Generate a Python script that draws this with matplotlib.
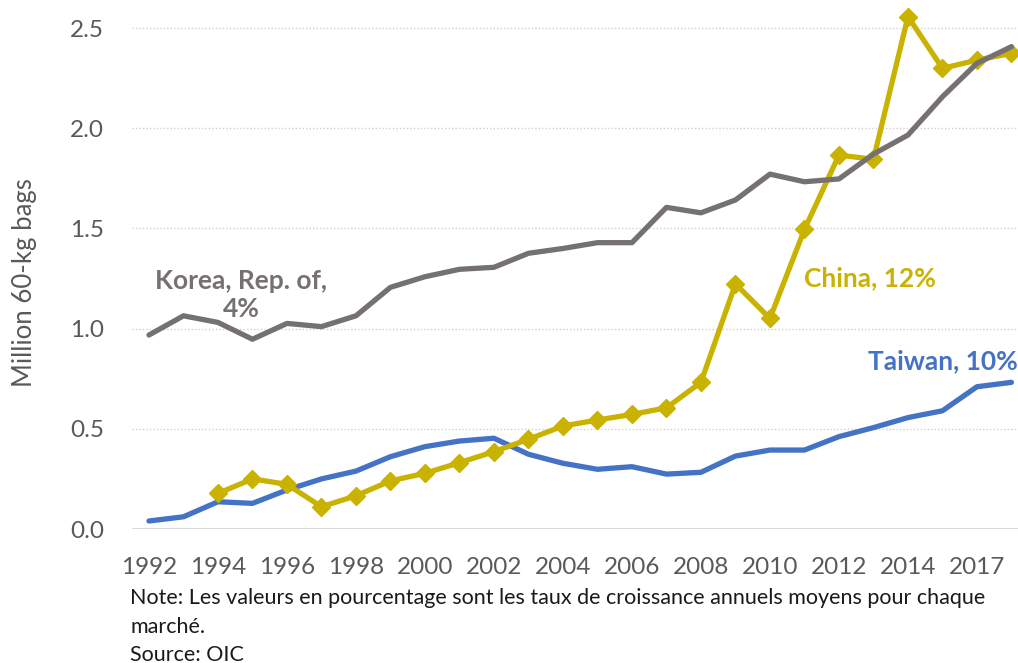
import matplotlib.pyplot as plt
import numpy as np

plt.rcParams['font.family'] = ['Lato', 'DejaVu Sans']

years = list(range(1992, 2018))
tick_labels = ['1992', '1994', '1996', '1998', '2000', '2002', '2004',
               '2006', '2008', '2010', '2012', '2014', '2017']

korea = [0.968, 1.064, 1.031, 0.947, 1.026, 1.010, 1.064, 1.206, 1.259, 1.296,
         1.306, 1.376, 1.400, 1.429, 1.429, 1.605, 1.578, 1.642, 1.771, 1.733,
         1.747, 1.871, 1.966, 2.157, 2.324, 2.407]
# China starts in 1994
china = [None, None, 0.178, 0.250, 0.223, 0.111, 0.166, 0.240, 0.278, 0.331,
         0.386, 0.448, 0.514, 0.544, 0.572, 0.605, 0.732, 1.223, 1.051, 1.495,
         1.866, 1.845, 2.557, 2.299, 2.340, 2.374]
taiwan = [0.040, 0.061, 0.136, 0.128, 0.195, 0.250, 0.289, 0.361, 0.411, 0.439,
          0.453, 0.373, 0.328, 0.298, 0.311, 0.274, 0.283, 0.364, 0.394, 0.394,
          0.461, 0.506, 0.556, 0.590, 0.710, 0.732]

c_korea = '#767171'
c_china = '#C9B300'
c_taiwan = '#4472C4'
c_text = '#595959'

x = np.arange(len(years))
china_arr = np.array([np.nan if v is None else v for v in china])

fig = plt.figure(figsize=(10.18, 6.63), dpi=100)
ax = fig.add_axes([0.1294, 0.2021, 0.8706, 0.7979])

ax.plot(x, taiwan, color=c_taiwan, lw=3.8, solid_capstyle='round', zorder=3, clip_on=False)
ax.plot(x, china_arr, color=c_china, lw=3.8, marker='D', ms=9, zorder=4, clip_on=False)
ax.plot(x, korea, color=c_korea, lw=3.8, solid_capstyle='round', zorder=5, clip_on=False)

ax.set_xlim(-0.5, 25.19)
ax.set_ylim(0, 2.64)
ax.set_yticks([0, 0.5, 1.0, 1.5, 2.0, 2.5])
ax.set_yticklabels(['0.0', '0.5', '1.0', '1.5', '2.0', '2.5'])
ax.set_xticks(x[::2])
ax.set_xticklabels(tick_labels)
ax.tick_params(axis='both', length=0, labelsize=17.5, colors=c_text)
ax.tick_params(axis='x', pad=20)
ax.tick_params(axis='y', pad=20)

for v in [0.5, 1.0, 1.5, 2.0, 2.5]:
    ax.axhline(v, color='#D0D0D0', lw=1, ls=(0, (1, 1.5)), zorder=1)
ax.axhline(0, color='#D9D9D9', lw=1.5, zorder=2)

for s in ax.spines.values():
    s.set_visible(False)

fig.text(25 / 1018, 1 - 283 / 663, 'Million 60-kg bags', rotation=90,
         fontsize=18.5, color=c_text, ha='center', va='center')

ax.text(2.67, 1.168, 'Korea, Rep. of,\n4%', color=c_korea, fontsize=19,
        fontweight='bold', ha='center', va='center', linespacing=1.2)
ax.text(20.9, 1.252, 'China, 12%', color=c_china, fontsize=19,
        fontweight='bold', ha='center', va='center')
ax.text(23.0, 0.838, 'Taiwan, 10%', color=c_taiwan, fontsize=19,
        fontweight='bold', ha='center', va='center')

fig.text(130 / 1018, 1 - 598 / 663,
         'Note: Les valeurs en pourcentage sont les taux de croissance annuels moyens pour chaque',
         fontsize=15.5, color='#1a1a1a', va='center')
fig.text(130 / 1018, 1 - 627 / 663, 'marché.', fontsize=15.5, color='#1a1a1a', va='center')
fig.text(130 / 1018, 1 - 655 / 663, 'Source: OIC', fontsize=15.5, color='#1a1a1a', va='center')

fig.savefig('out.png', dpi=100)
